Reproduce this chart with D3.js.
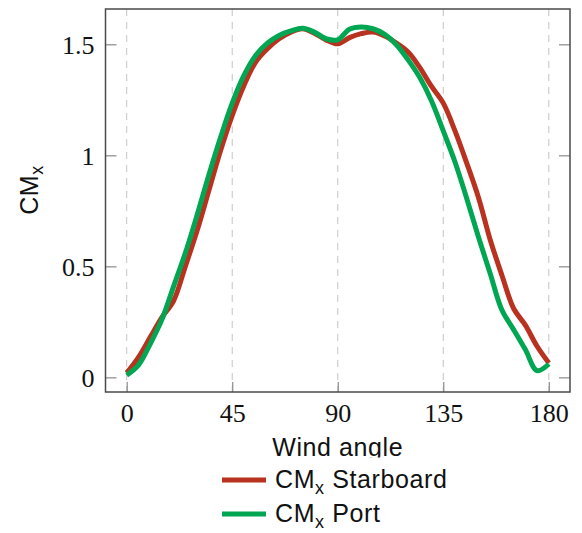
<!DOCTYPE html>
<html>
<head>
<meta charset="utf-8">
<script src="https://cdn.jsdelivr.net/npm/d3@7"></script>
<style>
body { margin: 0; background: #fff; }
svg { display: block; }
</style>
</head>
<body>
<div id="chartDiv"></div>
<script>
var width = 582, height = 533;

// wind angle in degrees
var angles = [0, 5, 10, 15, 20, 25, 30, 35, 40, 45, 50, 55, 60, 65, 70, 75, 80, 85, 90,
  95, 100, 105, 110, 115, 120, 125, 130, 135, 140, 145, 150, 155, 160, 165, 170, 175, 180];

var starboard = [0.02, 0.09, 0.18, 0.27, 0.345, 0.50, 0.66, 0.84, 1.02, 1.18, 1.315, 1.42, 1.48,
  1.525, 1.555, 1.57, 1.55, 1.52, 1.502, 1.53, 1.548, 1.555, 1.537, 1.505, 1.465, 1.395, 1.31,
  1.235, 1.11, 0.965, 0.81, 0.62, 0.46, 0.31, 0.235, 0.14, 0.065];

var port = [0.01, 0.055, 0.15, 0.26, 0.41, 0.56, 0.73, 0.91, 1.08, 1.235, 1.36, 1.45, 1.505,
  1.54, 1.56, 1.572, 1.555, 1.525, 1.52, 1.568, 1.578, 1.57, 1.545, 1.498, 1.43, 1.35, 1.245,
  1.11, 0.97, 0.806, 0.632, 0.468, 0.303, 0.215, 0.125, 0.03, 0.06];

var xTicks = [0, 45, 90, 135, 180];
var yTicks = [0, 0.5, 1, 1.5];

var seriesNames = ["Starboard", "Port"];
var seriesColors = ["#b8321f", "#00a651"];

var plotLeft = 105.5, plotRight = 570, plotTop = 9, plotBottom = 392;

var x = d3.scaleLinear().domain([-9.04, 189.04]).range([plotLeft, plotRight]);
var y = d3.scaleLinear().domain([-0.066, 1.659]).range([plotBottom, plotTop]);

var svg = d3.select("#chartDiv").append("svg")
  .attr("width", width)
  .attr("height", height);

// dashed vertical grid
svg.append("g")
  .selectAll("line")
  .data(xTicks)
  .enter().append("line")
  .attr("x1", function (d) { return x(d); })
  .attr("x2", function (d) { return x(d); })
  .attr("y1", plotTop)
  .attr("y2", plotBottom)
  .attr("stroke", "#c4c4c4")
  .attr("stroke-width", 1)
  .attr("stroke-dasharray", "7,6");

// axes, ticks pointing inside
var tickColor = "#8a8a8a";
var serif = "'Liberation Serif', 'DejaVu Serif', serif";

var xAxis = svg.append("g")
  .attr("transform", "translate(0," + plotBottom + ")")
  .call(d3.axisBottom(x).tickValues(xTicks).tickSizeInner(-10).tickSizeOuter(0).tickPadding(12));
var yAxis = svg.append("g")
  .attr("transform", "translate(" + plotLeft + ",0)")
  .call(d3.axisLeft(y).tickValues(yTicks).tickSizeInner(-11).tickSizeOuter(0).tickPadding(11)
    .tickFormat(function (d) { return d3.format("")(d); }));
var yAxisR = svg.append("g")
  .attr("transform", "translate(" + plotRight + ",0)")
  .call(d3.axisRight(y).tickValues(yTicks).tickSizeInner(-11).tickSizeOuter(0).tickFormat(""));

[xAxis, yAxis, yAxisR].forEach(function (g) {
  g.select(".domain").remove();
  g.selectAll(".tick line").attr("stroke", tickColor).attr("stroke-width", 1.2);
  g.selectAll("text")
    .attr("fill", "#111")
    .style("font-family", serif)
    .style("font-size", "26px");
});
yAxis.selectAll("text").attr("dy", "0.36em");
xAxis.selectAll("text").attr("dy", "0.71em");

// frame
svg.append("rect")
  .attr("x", plotLeft)
  .attr("y", plotTop)
  .attr("width", plotRight - plotLeft)
  .attr("height", plotBottom - plotTop)
  .attr("fill", "none")
  .attr("stroke", "#4a4a4a")
  .attr("stroke-width", 1.5);

// the two curves
var allSeries = [starboard, port];
var line = d3.line()
  .x(function (d) { return x(d[0]); })
  .y(function (d) { return y(d[1]); })
  .curve(d3.curveCatmullRom.alpha(0.5));

allSeries.forEach(function (vals, k) {
  svg.append("path")
    .datum(angles.map(function (a, i) { return [a, vals[i]]; }))
    .attr("d", line)
    .attr("fill", "none")
    .attr("stroke", seriesColors[k])
    .attr("stroke-width", 5)
    .attr("stroke-linejoin", "round");
});

var sans = "'Liberation Sans', Arial, sans-serif";

// axis titles
svg.append("text")
  .attr("x", (plotLeft + plotRight) / 2)
  .attr("y", 456)
  .attr("text-anchor", "middle")
  .style("font-family", sans)
  .style("font-size", "25px")
  .style("letter-spacing", "0.6px")
  .attr("fill", "#111")
  .text("Wind angle");

var yTitle = svg.append("text")
  .attr("transform", "translate(38," + 190 + ") rotate(-90)")
  .attr("text-anchor", "middle")
  .style("font-family", sans)
  .style("font-size", "25px")
  .style("letter-spacing", "0.6px")
  .attr("fill", "#111");
yTitle.append("tspan").text("CM");
yTitle.append("tspan").attr("dy", 5).style("font-size", "18px").text("x");

// legend (white box sits over the bottom of the x title)
var legend = svg.append("g");
legend.append("rect")
  .attr("x", 214)
  .attr("y", 457.5)
  .attr("width", 250)
  .attr("height", 76)
  .attr("fill", "#fff");

seriesNames.forEach(function (name, k) {
  var cy = 480 + k * 34;
  legend.append("line")
    .attr("x1", 222)
    .attr("x2", 266)
    .attr("y1", cy)
    .attr("y2", cy)
    .attr("stroke", seriesColors[k])
    .attr("stroke-width", 5);
  var t = legend.append("text")
    .attr("x", 275)
    .attr("y", cy + 8)
    .style("font-family", sans)
    .style("font-size", "25px")
    .style("letter-spacing", "0.6px")
    .attr("fill", "#111");
  t.append("tspan").text("CM");
  t.append("tspan").attr("dy", 6).style("font-size", "18px").text("x");
  t.append("tspan").attr("dy", -6).text(" " + name);
});
</script>
</body>
</html>
